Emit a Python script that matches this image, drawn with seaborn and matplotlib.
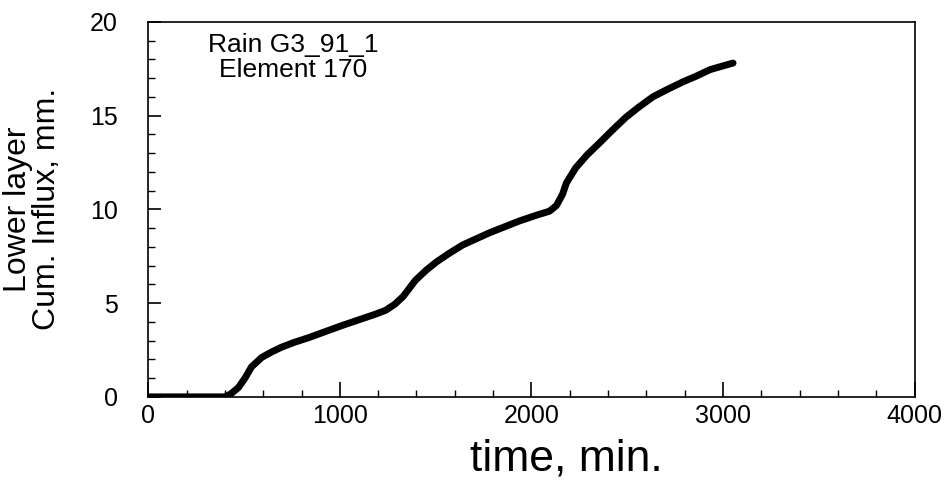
import matplotlib
matplotlib.use("Agg")
import matplotlib.pyplot as plt
from matplotlib.ticker import MultipleLocator
import pandas as pd
import seaborn as sns

# values
time_min = [0, 100, 200, 300, 398, 430, 471, 505, 539, 592, 645, 696, 760,
            838, 1010, 1183, 1240, 1288, 1330, 1360, 1393, 1450, 1505, 1570,
            1641, 1781, 1937, 2030, 2094, 2130, 2162, 2182, 2230, 2290, 2351,
            2420, 2492, 2560, 2634, 2710, 2791, 2860, 2932, 3052]
cum_influx = [0, 0, 0, 0, 0, 0.15, 0.5, 1.0, 1.6, 2.1, 2.4, 2.65, 2.9,
              3.16, 3.8, 4.4, 4.62, 4.95, 5.35, 5.75, 6.2, 6.75, 7.2, 7.65,
              8.1, 8.75, 9.38, 9.7, 9.9, 10.2, 10.8, 11.4, 12.2, 12.9, 13.5,
              14.2, 14.9, 15.45, 16.0, 16.4, 16.8, 17.1, 17.45, 17.8]

x_ticks = [0, 1000, 2000, 3000, 4000]
y_ticks = [0, 5, 10, 15, 20]

df = pd.DataFrame({"time": time_min, "influx": cum_influx})

sns.set_style("ticks")
plt.rcParams["font.family"] = ["Liberation Sans", "DejaVu Sans"]
plt.rcParams["text.color"] = "black"
plt.rcParams["axes.labelcolor"] = "black"

fig = plt.figure(figsize=(9.44, 4.84), dpi=100)
ax = fig.add_axes([0.157, 0.18, 0.812, 0.775])

sns.lineplot(data=df, x="time", y="influx", ax=ax, color="black",
             linewidth=5, estimator=None, solid_capstyle="round")

ax.set_xlim(0, 4000)
ax.set_ylim(0, 20)
ax.set_xticks(x_ticks)
ax.set_yticks(y_ticks)
ax.xaxis.set_minor_locator(MultipleLocator(200))
ax.yaxis.set_minor_locator(MultipleLocator(1))

ax.tick_params(which="both", direction="in", top=False, right=False,
               colors="black", labelcolor="black")
ax.tick_params(axis="x", which="major", length=11, width=1.2, labelsize=18, pad=5)
ax.tick_params(axis="x", which="minor", length=5, width=1.0)
ax.tick_params(axis="y", which="major", length=9, width=1.2, labelsize=18, pad=22)
ax.tick_params(axis="y", which="minor", length=5, width=1.0)

for side in ["top", "right", "bottom", "left"]:
    ax.spines[side].set_visible(True)
    ax.spines[side].set_linewidth(1.2)
    ax.spines[side].set_color("black")

ax.set_xlabel("time, min.", fontsize=32)
ax.xaxis.set_label_coords(0.545, -0.11)
ax.set_ylabel("Lower layer\nCum. Influx, mm.", fontsize=23, labelpad=20,
              linespacing=0.95)

ax.text(0.189, 0.904, "Rain G3_91_1\nElement 170", transform=ax.transAxes,
        ha="center", va="center", fontsize=19, linespacing=1.05)

fig.savefig("out.png", dpi=100)
